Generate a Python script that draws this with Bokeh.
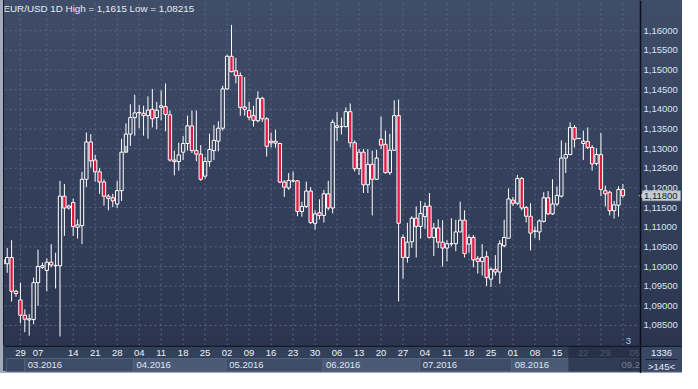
import math
from bokeh.plotting import figure
from bokeh.models import Range1d, Label, ColumnDataSource, Span
from bokeh.layouts import column
from bokeh.embed import file_html
from bokeh.resources import INLINE
from bokeh.core.properties import value

# ---------------- data ----------------
opens = [1.1018, 1.1007, 1.1023, 1.0937, 1.0915, 1.0876, 1.0864, 1.0865, 1.0959, 1.0998,
         1.0990, 1.1011, 1.1002, 1.1002, 1.1179, 1.1149, 1.1163, 1.1100, 1.1104, 1.1222,
         1.1317, 1.1271, 1.1241, 1.1215, 1.1179, 1.1175, 1.1159, 1.1193, 1.1291, 1.1337,
         1.1379, 1.1391, 1.1390, 1.1384, 1.1400, 1.1379, 1.1405, 1.1407, 1.1386, 1.1271,
         1.1267, 1.1291, 1.1313, 1.1358, 1.1295, 1.1286, 1.1230, 1.1267, 1.1295, 1.1319,
         1.1352, 1.1452, 1.1535, 1.1498, 1.1486, 1.1406, 1.1397, 1.1384, 1.1371, 1.1428,
         1.1376, 1.1315, 1.1319, 1.1313, 1.1215, 1.1200, 1.1218, 1.1218, 1.1140, 1.1153,
         1.1192, 1.1110, 1.1137, 1.1130, 1.1185, 1.1149, 1.1354, 1.1356, 1.1356, 1.1394,
         1.1315, 1.1249, 1.1291, 1.1208, 1.1260, 1.1222, 1.1324, 1.1311, 1.1239, 1.1296,
         1.1384, 1.1074, 1.1023, 1.1063, 1.1123, 1.1102, 1.1127, 1.1154, 1.1074, 1.1098,
         1.1062, 1.1047, 1.1058, 1.1058, 1.1088, 1.1118, 1.1057, 1.1074, 1.1020, 1.1013,
         1.1025, 1.0968, 1.0993, 1.0986, 1.1053, 1.1072, 1.1169, 1.1161, 1.1224, 1.1150,
         1.1128, 1.1090, 1.1088, 1.1115, 1.1175, 1.1134, 1.1159, 1.1179, 1.1276, 1.1285,
         1.1354, 1.1326, 1.1313, 1.1318, 1.1303, 1.1262, 1.1285, 1.1193, 1.1189, 1.1142,
         1.1156, 1.1196]
highs = [1.1022, 1.1047, 1.1067, 1.0941, 1.0959, 1.0891, 1.0879, 1.0972, 1.1043, 1.1010,
         1.1021, 1.1057, 1.1035, 1.1218, 1.1210, 1.1157, 1.1173, 1.1120, 1.1241, 1.1341,
         1.1337, 1.1284, 1.1250, 1.1222, 1.1184, 1.1185, 1.1218, 1.1325, 1.1364, 1.1413,
         1.1437, 1.1411, 1.1409, 1.1433, 1.1452, 1.1419, 1.1448, 1.1466, 1.1397, 1.1295,
         1.1315, 1.1332, 1.1384, 1.1397, 1.1397, 1.1309, 1.1279, 1.1338, 1.1360, 1.1370,
         1.1460, 1.1539, 1.1615, 1.1531, 1.1494, 1.1482, 1.1419, 1.1409, 1.1446, 1.1432,
         1.1380, 1.1341, 1.1348, 1.1315, 1.1220, 1.1238, 1.1242, 1.1220, 1.1165, 1.1216,
         1.1202, 1.1143, 1.1171, 1.1195, 1.1218, 1.1374, 1.1393, 1.1379, 1.1405, 1.1415,
         1.1321, 1.1299, 1.1299, 1.1299, 1.1295, 1.1297, 1.1382, 1.1346, 1.1338, 1.1423,
         1.1425, 1.1081, 1.1111, 1.1128, 1.1153, 1.1167, 1.1163, 1.1187, 1.1111, 1.1120,
         1.1118, 1.1067, 1.1123, 1.1119, 1.1165, 1.1143, 1.1081, 1.1080, 1.1027, 1.1057,
         1.1039, 1.0998, 1.1029, 1.1067, 1.1119, 1.1199, 1.1177, 1.1233, 1.1228, 1.1154,
         1.1161, 1.1102, 1.1120, 1.1189, 1.1192, 1.1222, 1.1204, 1.1321, 1.1315, 1.1367,
         1.1360, 1.1327, 1.1346, 1.1354, 1.1309, 1.1301, 1.1340, 1.1206, 1.1193, 1.1167,
         1.1204, 1.1210]
lows = [1.1000, 1.0984, 1.0911, 1.0923, 1.0856, 1.0833, 1.0824, 1.0853, 1.0900, 1.0994,
        1.0937, 1.0998, 1.0944, 1.0822, 1.1078, 1.1145, 1.1078, 1.1071, 1.1057, 1.1202,
        1.1252, 1.1216, 1.1185, 1.1155, 1.1143, 1.1151, 1.1149, 1.1167, 1.1307, 1.1307,
        1.1333, 1.1352, 1.1333, 1.1325, 1.1354, 1.1349, 1.1372, 1.1344, 1.1267, 1.1232,
        1.1244, 1.1271, 1.1295, 1.1289, 1.1268, 1.1218, 1.1224, 1.1254, 1.1271, 1.1293,
        1.1346, 1.1450, 1.1494, 1.1466, 1.1384, 1.1384, 1.1372, 1.1356, 1.1367, 1.1368,
        1.1280, 1.1303, 1.1303, 1.1212, 1.1177, 1.1195, 1.1214, 1.1128, 1.1127, 1.1149,
        1.1108, 1.1094, 1.1120, 1.1112, 1.1143, 1.1135, 1.1319, 1.1336, 1.1354, 1.1303,
        1.1242, 1.1233, 1.1187, 1.1187, 1.1130, 1.1220, 1.1299, 1.1236, 1.1233, 1.1294,
        1.0911, 1.0969, 1.1010, 1.1047, 1.1023, 1.1071, 1.1096, 1.1071, 1.1027, 1.1047,
        1.1000, 1.1013, 1.1051, 1.1039, 1.1088, 1.1023, 1.1035, 1.0998, 1.0982, 1.0977,
        1.0950, 1.0948, 1.0977, 1.0956, 1.1049, 1.1072, 1.1154, 1.1156, 1.1143, 1.1112,
        1.1041, 1.1072, 1.1067, 1.1112, 1.1131, 1.1131, 1.1153, 1.1176, 1.1238, 1.1283,
        1.1303, 1.1325, 1.1271, 1.1299, 1.1244, 1.1257, 1.1179, 1.1153, 1.1130, 1.1122,
        1.1127, 1.1175]
closes = [1.1006, 1.1023, 1.0937, 1.0931, 1.0876, 1.0866, 1.0867, 1.0959, 1.1000, 1.1002,
          1.1011, 1.1004, 1.1003, 1.1179, 1.1149, 1.1154, 1.1102, 1.1106, 1.1222, 1.1317,
          1.1269, 1.1241, 1.1215, 1.1179, 1.1173, 1.1167, 1.1193, 1.1291, 1.1337, 1.1379,
          1.1391, 1.1392, 1.1384, 1.1398, 1.1376, 1.1398, 1.1409, 1.1387, 1.1271, 1.1267,
          1.1284, 1.1313, 1.1358, 1.1295, 1.1286, 1.1222, 1.1267, 1.1298, 1.1321, 1.1352,
          1.1452, 1.1535, 1.1496, 1.1486, 1.1405, 1.1400, 1.1380, 1.1372, 1.1428, 1.1376,
          1.1306, 1.1319, 1.1314, 1.1215, 1.1202, 1.1219, 1.1218, 1.1140, 1.1153, 1.1192,
          1.1112, 1.1134, 1.1130, 1.1185, 1.1149, 1.1367, 1.1358, 1.1356, 1.1394, 1.1315,
          1.1249, 1.1291, 1.1208, 1.1260, 1.1222, 1.1276, 1.1309, 1.1239, 1.1296, 1.1384,
          1.1110, 1.1023, 1.1062, 1.1123, 1.1102, 1.1135, 1.1153, 1.1074, 1.1098, 1.1062,
          1.1047, 1.1058, 1.1058, 1.1088, 1.1118, 1.1033, 1.1074, 1.1017, 1.1013, 1.1023,
          1.0972, 1.0993, 1.0986, 1.1058, 1.1074, 1.1172, 1.1161, 1.1224, 1.1149, 1.1128,
          1.1085, 1.1090, 1.1116, 1.1175, 1.1134, 1.1159, 1.1181, 1.1276, 1.1285, 1.1354,
          1.1324, 1.1326, 1.1319, 1.1303, 1.1261, 1.1285, 1.1196, 1.1185, 1.1142, 1.1157,
          1.1196, 1.1180]

price_ticks = [1.085, 1.090, 1.095, 1.100, 1.105, 1.110, 1.115, 1.120,
               1.125, 1.130, 1.135, 1.140, 1.145, 1.150, 1.155, 1.160]
price_labels = ["1,08500", "1,09000", "1,09500", "1,10000", "1,10500", "1,11000", "1,11500", "1,12000",
                "1,12500", "1,13000", "1,13500", "1,14000", "1,14500", "1,15000", "1,15500", "1,16000"]
week_grid_idx = [4, 10, 16, 21, 26, 31, 36, 41, 46, 51, 56, 61, 66, 71,
                 76, 81, 86, 91, 96, 101, 106, 111, 116, 121, 126, 131, 136, 141]
day_labels = ["29", "07", "14", "21", "28", "04", "11", "18", "25", "02", "09", "16", "23", "30",
              "06", "13", "20", "27", "04", "11", "18", "25", "01", "08", "15", "22", "29", "05"]
day_label_idx = [4, 8, 16, 21, 26, 31, 36, 41, 46, 51, 56, 61, 66, 71,
                 76, 81, 86, 91, 96, 101, 106, 111, 116, 121, 126, 132, 137, 143.7]
month_labels = ["", "03.2016", "04.2016", "05.2016", "06.2016", "07.2016", "08.2016", "09.2016"]
month_start_idx = [0.8, 5.0, 29.7, 50.8, 72.8, 94.8, 115.7, 140.0]
bars_total = 1336
bars_visible = 145
title_text = "EUR/USD 1D High = 1,1615 Low = 1,08215"

# ---------------- layout constants ----------------
W = 682
H_MAIN = 345
H_STRIP = 28
LEFT = 4
AXIS_W = 42
FRAME_W = W - LEFT - AXIS_W          # width of the candle area
X0, X1 = 0.38, 145.0                 # visible bar range
Y0, Y1 = 1.0799, 1.1677
UX = (X1 - X0) / FRAME_W             # data units per pixel (x)
UY = (Y1 - Y0) / H_MAIN              # data units per pixel (y)
XE = X0 + (W - LEFT) * UX            # right end incl. price-scale panel
FONT = "Liberation Sans"
RED = "#e3173f"
GRID = "#5a6783"
AXLINE = "#0b0f18"

n = len(opens)
xs = list(range(n))
tops = [max(o, c) for o, c in zip(opens, closes)]
bots = [min(o, c) for o, c in zip(opens, closes)]
fills = [RED if c < o else "#000000" for o, c in zip(opens, closes)]
alphas = [1.0 if c < o else 0.0 for o, c in zip(opens, closes)]
src = ColumnDataSource(dict(x=xs, h=highs, l=lows, top=tops, bot=bots, fill=fills, alpha=alphas))

bg_css = ("linear-gradient(to right, #a3abba 0px, #a3abba 3px, #141a26 3px, #141a26 4px, transparent 4px), "
          "linear-gradient(to bottom, #404d69 0%, #35415c 50%, #2b3550 100%)")

p = figure(width=W, height=H_MAIN, x_range=Range1d(X0, XE), y_range=Range1d(Y0, Y1),
           x_axis_location=None, y_axis_location=None,
           output_backend="svg", toolbar_location=None,
           min_border_left=LEFT, min_border_right=0, min_border_top=0, min_border_bottom=0,
           styles={"background": bg_css})
p.background_fill_alpha = 0
p.border_fill_alpha = 0
p.outline_line_color = None
p.grid.visible = False

# dashed grid (price levels and weekly lines) inside the candle area
p.segment(x0=[X0] * len(price_ticks), x1=[X1] * len(price_ticks), y0=price_ticks, y1=price_ticks,
          line_color=GRID, line_dash="2 3", line_width=1)
p.segment(x0=week_grid_idx, x1=week_grid_idx, y0=[Y0] * len(week_grid_idx), y1=[Y1] * len(week_grid_idx),
          line_color=GRID, line_dash="2 3", line_width=1)

# candles
p.segment(x0="x", y0="top", x1="x", y1="h", source=src, line_color="white", line_width=1)
p.segment(x0="x", y0="l", x1="x", y1="bot", source=src, line_color="white", line_width=1)
p.vbar(x="x", width=0.76, top="top", bottom="bot", source=src,
       fill_color="fill", fill_alpha="alpha", line_color="white", line_width=1)

# price scale on the right
p.add_layout(Span(location=X1, dimension="height", line_color=AXLINE, line_width=1.5))
p.text(x=[X1] * len(price_ticks), y=price_ticks, text=price_labels, x_offset=3,
       text_font=value(FONT), text_font_size=value("9.5px"), text_color="#d9e4f3",
       text_align="left", text_baseline="middle")

# last price tag
last = closes[-1]
last_txt = f"{last:.5f}".replace(".", ",")
p.quad(left=[X1 + 2 * UX], right=[X1 + 40 * UX], top=[last + 5 * UY], bottom=[last - 5 * UY],
       fill_color="#c6cbd4", line_color="#9aa2b0", line_width=0.5)
p.scatter(x=[X1 + 2.5 * UX], y=[last], marker="triangle", angle=math.pi / 2, size=8,
          fill_color="#c6cbd4", line_color=None)
p.text(x=[X1 + 3.5 * UX], y=[last], text=[last_txt],
       text_font=value(FONT), text_font_size=value("9.5px"), text_color="#1a2130",
       text_align="left", text_baseline="middle")

p.add_layout(Label(x=-1, y=H_MAIN - 8, x_units="screen", y_units="screen", text=title_text,
                   text_font=FONT, text_font_size="9.8px", text_color="#e6ecf4",
                   text_baseline="middle"))
p.add_layout(Label(x=FRAME_W - 12, y=5, x_units="screen", y_units="screen", text="3",
                   text_font=FONT, text_font_size="9.5px", text_color="#a9c6ee",
                   text_baseline="middle", text_align="center"))

# ---------------- bottom date strip ----------------
strip_css = ("linear-gradient(to right, #a3abba 0px, #a3abba 3px, transparent 3px), "
             "linear-gradient(to top, #a3abba 0px, #a3abba 2px, transparent 2px), "
             "linear-gradient(#33405a, #33405a)")
b = figure(width=W, height=H_STRIP, x_range=Range1d(X0, XE), y_range=Range1d(H_STRIP, 0),
           x_axis_location=None, y_axis_location=None, output_backend="svg", toolbar_location=None,
           min_border_left=LEFT, min_border_right=0, min_border_top=0, min_border_bottom=0,
           styles={"background": strip_css})
b.background_fill_alpha = 0
b.border_fill_alpha = 0
b.outline_line_color = None
b.grid.visible = False

m_left = month_start_idx
m_right = month_start_idx[1:] + [XE]
m_cols = ["#3a4762" if i == 0 else ("#3f4c68" if i % 2 == 1 else "#4b5975") for i in range(len(m_left))]
b.quad(left=m_left, right=m_right, top=[13] * len(m_left), bottom=[26] * len(m_left),
       fill_color=m_cols, line_color="#56637e", line_width=1)
b.text(x=m_left, y=[19.5] * len(m_left), text=month_labels, x_offset=3,
       text_font=value(FONT), text_font_size=value("9.5px"), text_color="#dfe7f2",
       text_align="left", text_baseline="middle")

dark_start = 128.6
d_cols = ["#8391aa" if xi > dark_start else "#eef2f8" for xi in day_label_idx]
b.text(x=day_label_idx, y=[7.2] * len(day_label_idx), text=day_labels,
       text_font=value(FONT), text_font_size=value("9.5px"), text_color=d_cols,
       text_align="center", text_baseline="middle")

b.quad(left=[dark_start], right=[X1], top=[1], bottom=[26], fill_color="#1c2438",
       fill_alpha=0.55, line_color=None)

b.quad(left=[X1], right=[XE], top=[0], bottom=[26], fill_color="#3a4765", line_color=None)
b.add_layout(Span(location=X1, dimension="height", line_color=AXLINE, line_width=1.5))
b.add_layout(Span(location=0.5, dimension="width", line_color=AXLINE, line_width=1.5))
mid = (X1 + XE) / 2
b.text(x=[mid], y=[7.5], text=[str(bars_total)], text_font=value(FONT),
       text_font_size=value("9.5px"), text_color="#e8eef6", text_align="center",
       text_baseline="middle")
b.segment(x0=[X1 + 5 * UX], x1=[XE - 5 * UX], y0=[14], y1=[14], line_color="#1b2233", line_width=1)
b.text(x=[mid], y=[20.5], text=[f">{bars_visible}<"], text_font=value(FONT),
       text_font_size=value("9.5px"), text_color="#e8eef6", text_align="center",
       text_baseline="middle")

layout = column(p, b, spacing=0)
open("out.html", "w").write(file_html(layout, INLINE))
